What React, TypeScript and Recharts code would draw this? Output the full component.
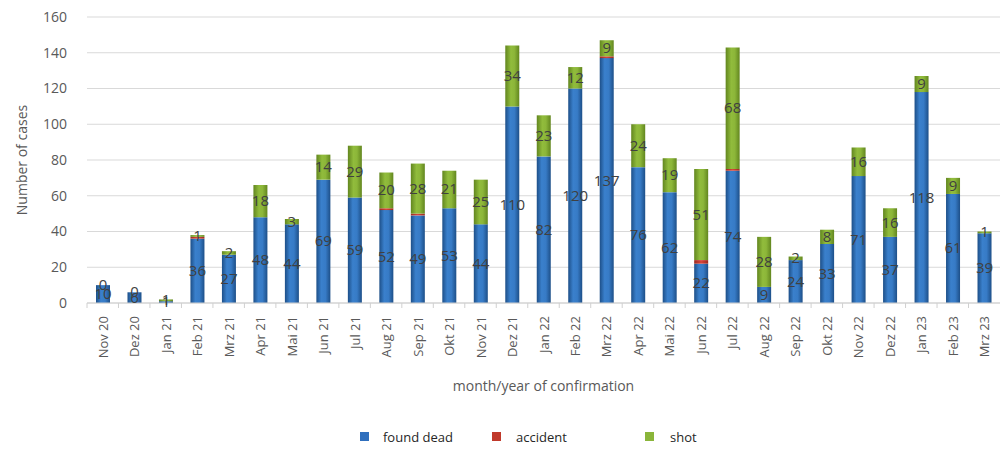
import React from "react";
import { Bar, BarChart, CartesianGrid, LabelList, XAxis, YAxis } from "recharts";

// Monate (deutsche Kürzel wie im Original)
const months = [
  "Nov 20", "Dez 20", "Jan 21", "Feb 21", "Mrz 21", "Apr 21", "Mai 21", "Jun 21", "Jul 21", "Aug 21",
  "Sep 21", "Okt 21", "Nov 21", "Dez 21", "Jan 22", "Feb 22", "Mrz 22", "Apr 22", "Mai 22", "Jun 22",
  "Jul 22", "Aug 22", "Sep 22", "Okt 22", "Nov 22", "Dez 22", "Jan 23", "Feb 23", "Mrz 23",
];
const foundDead = [10, 6, 1, 36, 27, 48, 44, 69, 59, 52, 49, 53, 44, 110, 82, 120, 137, 76, 62, 22, 74, 9, 24, 33, 71, 37, 118, 61, 39];
const accident = [0, 0, 0, 1, 0, 0, 0, 0, 0, 1, 1, 0, 0, 0, 0, 0, 1, 0, 0, 2, 1, 0, 0, 0, 0, 0, 0, 0, 0];
const shot = [0, 0, 1, 1, 2, 18, 3, 14, 29, 20, 28, 21, 25, 34, 23, 12, 9, 24, 19, 51, 68, 28, 2, 8, 16, 16, 9, 9, 1];
const yTicks = [0, 20, 40, 60, 80, 100, 120, 140, 160];

const data = months.map((m, i) => ({ m, dead: foundDead[i], acc: accident[i], shot: shot[i] }));

const FONT = "'Open Sans', 'Noto Sans', sans-serif";
const TXT = "#595959";
const LBL = "#404040";

const W = 1004;
const H = 449;
const LEFT = 87;
const RIGHT = 4;
const step = (W - LEFT - RIGHT) / months.length;

const MonthTick = (props: any) => {
  const { x, y, payload } = props;
  return (
    <g>
      <line x1={x - step / 2} x2={x - step / 2} y1={y - 8} y2={y - 3} stroke="#d0d0d0" />
      <text
        x={0}
        y={0}
        transform={`translate(${x + 5},${y + 5}) rotate(-90)`}
        textAnchor="end"
        fontSize={13}
        fontFamily={FONT}
        fill={TXT}
      >
        {payload.value}
      </text>
    </g>
  );
};

// Beschriftung "found dead"; ist "shot" 0, steht dessen 0 am oberen Balkenende (wie im Original)
const DeadLabel = (props: any) => {
  const { x, y, width, height, value, index } = props;
  const cx = x + width / 2;
  return (
    <g>
      <text x={cx} y={y + height / 2} dy={5} textAnchor="middle" fill={LBL} fontSize={15} fontFamily={FONT}>
        {value}
      </text>
      {shot[index] === 0 && (
        <text x={cx} y={y} dy={5} textAnchor="middle" fill={LBL} fontSize={15} fontFamily={FONT}>
          {shot[index]}
        </text>
      )}
    </g>
  );
};

const ShotLabel = (props: any) => {
  const { x, y, width, height, value } = props;
  return (
    <text x={x + width / 2} y={y + height / 2} dy={5} textAnchor="middle" fill={LBL} fontSize={15} fontFamily={FONT}>
      {value}
    </text>
  );
};

const LegendBox = () => {
  const items = [
    { name: "found dead", color: "#2f6fbd", x: 360, tx: 383 },
    { name: "accident", color: "#c0392b", x: 492, tx: 516 },
    { name: "shot", color: "#8ab53a", x: 645, tx: 670 },
  ];
  return (
    <div style={{ position: "absolute", left: 0, top: 428, width: W, height: 20, fontFamily: FONT, fontSize: 13, color: "#262626" }}>
      {items.map((it) => (
        <React.Fragment key={it.name}>
          <span style={{ position: "absolute", left: it.x, top: 4, width: 9, height: 9, background: it.color }} />
          <span style={{ position: "absolute", left: it.tx, top: 0 }}>{it.name}</span>
        </React.Fragment>
      ))}
    </div>
  );
};

export default function App() {
  return (
    <div style={{ position: "absolute", left: 0, top: 0, width: W, height: H, background: "#fff" }}>
      <BarChart
        width={W}
        height={H}
        data={data}
        margin={{ top: 17, right: RIGHT, left: 0, bottom: 46 }}
        barSize={14}
      >
        <defs>
          <linearGradient id="gBlue" x1="0" y1="0" x2="1" y2="0">
            <stop offset="0%" stopColor="#1d4f88" />
            <stop offset="35%" stopColor="#3a80cc" />
            <stop offset="65%" stopColor="#377bc6" />
            <stop offset="100%" stopColor="#1d4f88" />
          </linearGradient>
          <linearGradient id="gGreen" x1="0" y1="0" x2="1" y2="0">
            <stop offset="0%" stopColor="#62861f" />
            <stop offset="40%" stopColor="#91bc3c" />
            <stop offset="65%" stopColor="#8cb639" />
            <stop offset="100%" stopColor="#62861f" />
          </linearGradient>
          <linearGradient id="gRed" x1="0" y1="0" x2="1" y2="0">
            <stop offset="0%" stopColor="#9c2a20" />
            <stop offset="50%" stopColor="#d9453a" />
            <stop offset="100%" stopColor="#9c2a20" />
          </linearGradient>
        </defs>
        <CartesianGrid stroke="#d9d9d9" vertical={false} />
        <XAxis
          dataKey="m"
          interval={0}
          height={100}
          tickLine={false}
          axisLine={{ stroke: "#d0d0d0" }}
          tick={<MonthTick />}
          label={{ value: "month/year of confirmation", position: "insideBottom", offset: 12, fill: TXT, fontSize: 14, fontFamily: FONT }}
        />
        <YAxis
          width={LEFT}
          domain={[0, 160]}
          ticks={yTicks}
          tickLine={false}
          axisLine={false}
          tick={{ fill: TXT, fontSize: 14, fontFamily: FONT }}
          tickMargin={14}
          label={{ value: "Number of cases", angle: -90, position: "insideLeft", offset: 22, fill: TXT, fontSize: 14, fontFamily: FONT, style: { textAnchor: "middle" } }}
        />
        <Bar dataKey="dead" stackId="a" fill="url(#gBlue)" isAnimationActive={false}>
          <LabelList dataKey="dead" content={<DeadLabel />} />
        </Bar>
        <Bar dataKey="acc" stackId="a" fill="url(#gRed)" isAnimationActive={false} />
        <Bar dataKey="shot" stackId="a" fill="url(#gGreen)" isAnimationActive={false}>
          <LabelList dataKey="shot" content={<ShotLabel />} />
        </Bar>
      </BarChart>
      <LegendBox />
    </div>
  );
}
